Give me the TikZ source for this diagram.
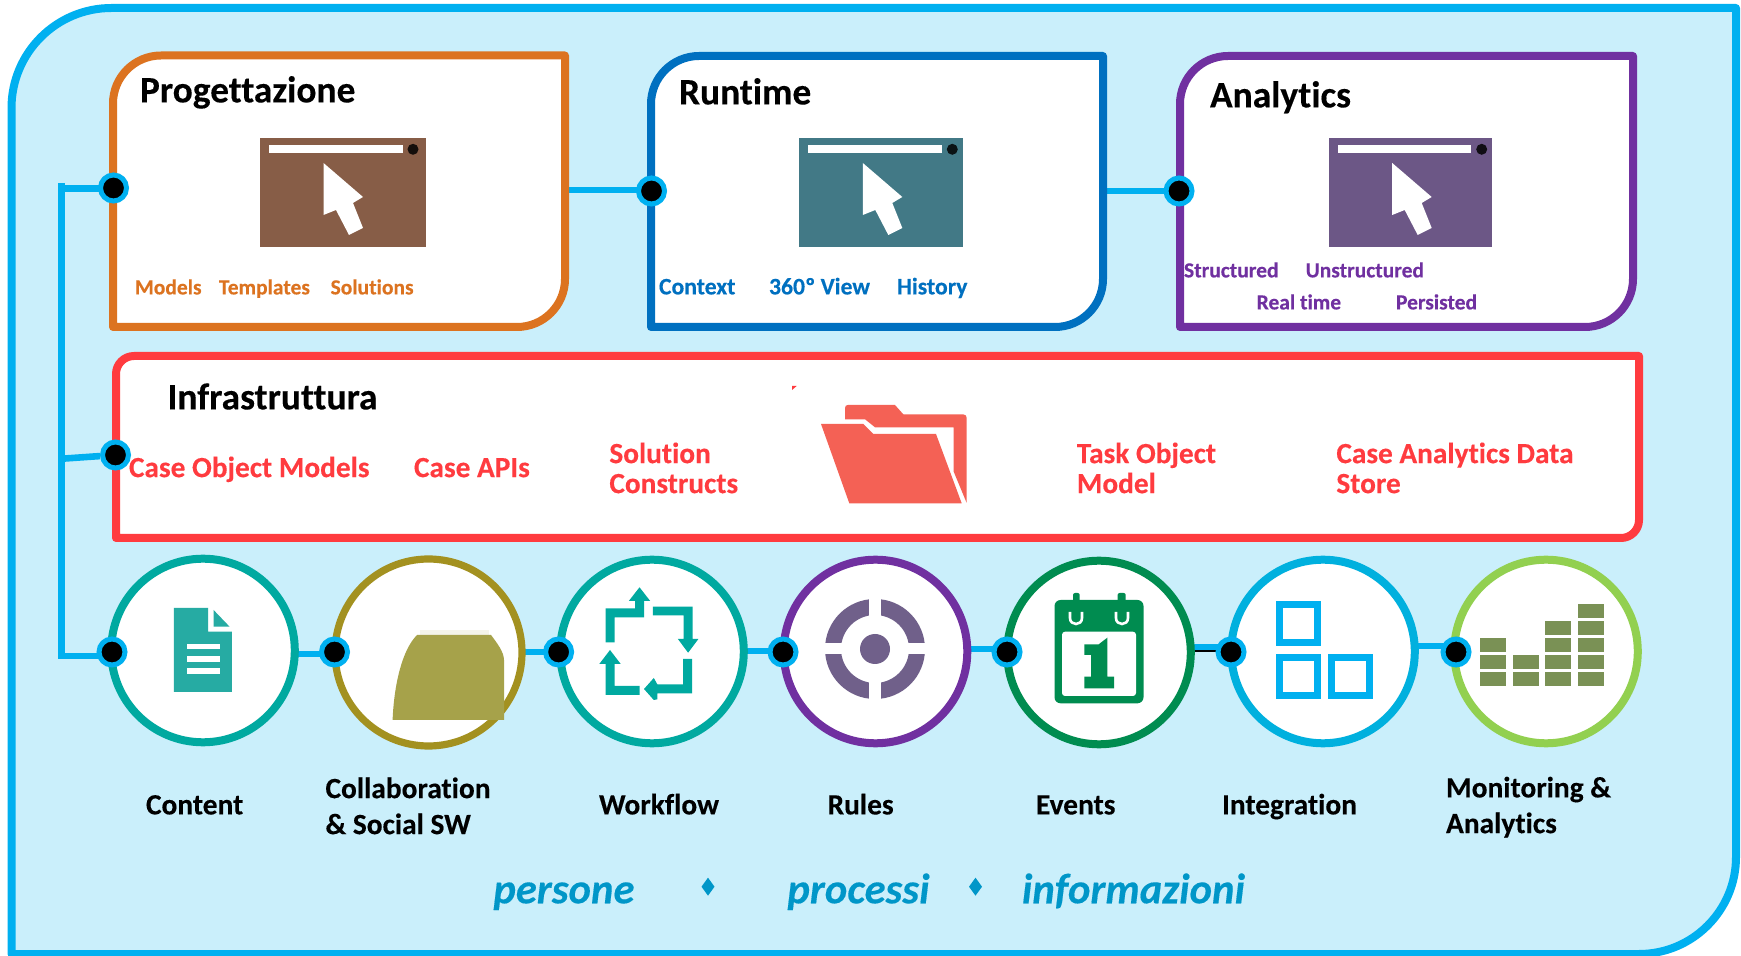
\documentclass[tikz,border=0pt]{standalone}
\usepackage{fontspec}
\setmainfont{Carlito}[Ligatures=CommonOff,BoldFeatures={FakeBold=0.25},BoldItalicFeatures={FakeBold=0.25}]
\pgfdeclarelayer{bgl}\pgfdeclarelayer{conn}\pgfdeclarelayer{shp}
\pgfsetlayers{bgl,conn,shp,main}
\definecolor{bgblue}{HTML}{CAEFFB}
\definecolor{link}{HTML}{00B0F0}
\definecolor{orangeb}{HTML}{DC7320}
\definecolor{blueb}{HTML}{0070C0}
\definecolor{purpleb}{HTML}{7030A0}
\definecolor{redb}{HTML}{FF3B3F}
\definecolor{tealb}{HTML}{00A9A0}
\definecolor{oliveb}{HTML}{A39120}
\definecolor{greenb}{HTML}{008C50}
\definecolor{cyanb}{HTML}{00B0DE}
\definecolor{limeb}{HTML}{92D050}
\definecolor{word}{HTML}{0096C8}
\definecolor{winA}{HTML}{875D47}
\definecolor{winB}{HTML}{427986}
\definecolor{winC}{HTML}{6C5786}
\definecolor{docc}{HTML}{26ABA3}
\definecolor{collabc}{HTML}{A6A24A}
\definecolor{rulec}{HTML}{70608A}
\definecolor{barc}{HTML}{7A9155}
\definecolor{folderc}{HTML}{F46155}
\tikzset{
  dot/.style={circle,draw=link,fill=black,line width=2.5pt,minimum size=13pt,inner sep=0pt},
  linkline/.style={draw=link,line width=3.3pt},
  ring/.style={circle,fill=white,line width=4pt,minimum size=91.8pt,inner sep=0pt},
  lab/.style={anchor=base west,inner sep=0pt,font=\bfseries,xshift=-0.2pt,yshift=-0.2pt},
  title/.style={lab,font=\fontsize{18.7}{20}\selectfont\bfseries},
  bottomlab/.style={lab,yshift=-0.5pt,font=\fontsize{14.7}{16}\selectfont\bfseries},
  small/.style={lab,font=\fontsize{10.75}{12}\selectfont\bfseries},
  mid/.style={lab,font=\fontsize{11.85}{13}\selectfont\bfseries},
  inf/.style={lab,text=redb,font=\fontsize{14.65}{16}\selectfont\bfseries},
  big/.style={lab,text=word,xshift=0.2pt,yshift=-0.1pt,font=\fontsize{21.3}{23}\selectfont\bfseries\itshape},
  boxline/.style={line width=4pt,line join=round},
}
% L T R B r(top-left) r(bottom-right)
\newcommand{\lobox}[7]{%
  \path[boxline,#7] (#1,#4) -- (#1,#2+#5) .. controls (#1,#2+0.448*#5) and (#1+0.448*#5,#2) .. (#1+#5,#2)
   -- (#3,#2) -- (#3,#4-#6) .. controls (#3,#4-0.448*#6) and (#3-0.448*#6,#4) .. (#3-#6,#4) -- cycle;}
\newcommand{\windowicon}[3]{%
  \begin{scope}[shift={(#1,138)}]
    \fill[#3] (0,0) rectangle (#2,109);
    \fill[white] (9,7) rectangle (142.5,15);
    \fill[black!85!#3] (153,11.3) circle[radius=5.5];
    \fill[white] (63.5,25) -- (103,59) -- (93,65) -- (103,90) -- (89,97) -- (76,72) -- (63.5,77) -- cycle;
  \end{scope}}
\begin{document}
\begin{tikzpicture}[x=0.5pt,y=-0.5pt]
\useasboundingbox (0,0) rectangle (1741,956);
\begin{pgfonlayer}{bgl}
  \lobox{11.5}{8}{1736}{954}{100}{97}{draw=link,fill=bgblue}
\end{pgfonlayer}

% connection dots
\node[dot] (np) at (113.5,188) {};
\node[dot] (nr) at (651.5,191) {};
\node[dot] (na) at (1179,191) {};
\node[dot] (ni) at (115.5,455) {};
\node[dot] (c1) at (112,652) {};
\node[dot] (c2) at (334.5,652) {};
\node[dot] (c3) at (558.6,652) {};
\node[dot] (c4) at (783,652) {};
\node[dot] (c5) at (1007,652) {};
\node[dot] (c6) at (1231,652) {};
\node[dot] (c7) at (1456,652) {};

\coordinate (tTop) at (61.5,183);
\coordinate (tMid) at (61.5,188.5);
\coordinate (tBot) at (61.5,656);
\coordinate (tInf) at (65,458.5);
\coordinate (pOut) at (565,190);
\coordinate (rOut) at (1103,191);
\coordinate (o1) at (290,654);
\coordinate (o2) at (520,652);
\coordinate (o3) at (740,651);
\coordinate (o4) at (965,649);
\coordinate (o5) at (1190,647);
\coordinate (o5b) at (1190,651.5);
\coordinate (o6) at (1412,646);

\begin{pgfonlayer}{conn}
  \draw[linkline,line join=miter] (tTop) -- (tBot) -- (tBot -| c1);
  \draw[linkline] (tMid) -- (tMid -| np);
  \draw[linkline] (tInf) -- (ni);
  \draw[linkline] (pOut) -- (pOut -| nr);
  \draw[linkline] (rOut) -- (na);
  \draw[black,line width=1pt] (o5b) -- (o5b -| c6);
  \draw[linkline] (o1) -- (o1 -| c2);
  \draw[linkline] (o2) -- (o2 -| c3);
  \draw[linkline] (o3) -- (o3 -| c4);
  \draw[linkline] (o4) -- (o4 -| c5);
  \draw[linkline] (o5) -- (o5 -| c6);
  \draw[linkline] (o6) -- (o6 -| c7);
\end{pgfonlayer}

\begin{pgfonlayer}{shp}
  \lobox{113}{55.5}{565}{327}{48}{48}{draw=orangeb,fill=white}
  \lobox{651}{56}{1103}{327}{48}{48}{draw=blueb,fill=white}
  \lobox{1180}{56}{1633}{327}{48}{48}{draw=purpleb,fill=white}
  \lobox{116}{356}{1639}{538}{18}{18}{draw=redb,fill=white}
  \windowicon{260}{165.5}{winA}
  \windowicon{799.3}{163.4}{winB}
  \windowicon{1328.7}{163}{winC}

  % folder
  \fill[folderc,line join=round] (845,408) .. controls (845,406) and (846,405) .. (848,405)
     -- (895,405) -- (903.3,414.3) -- (963,414.3) .. controls (965.5,414.3) and (966.7,416) .. (966.7,418)
     -- (966.7,503) -- (953.7,471.7) -- (953.7,427.3) -- (875,427.3) -- (865,419.3) -- (845,419.3) -- cycle;
  \fill[folderc] (821,424) -- (863.3,424) -- (873.3,434) -- (936,434) -- (961.7,503.3) -- (849.3,503.3) -- cycle;
  \fill[redb] (792,386) -- (796.7,386) -- (792,390) -- cycle;

  % circles
  \node[ring,draw=tealb] (r1) at (203,650.5) {};
  \node[ring,draw=oliveb,line width=3.6pt,minimum size=93.5pt] (r2) at (428.5,652.5) {};
  \node[ring,draw=tealb] (r3) at (652,651.5) {};
  \node[ring,draw=purpleb] (r4) at (875.5,651.5) {};
  \node[ring,draw=greenb] (r5) at (1099,652.5) {};
  \node[ring,draw=cyanb] (r6) at (1323,651.5) {};
  \node[ring,draw=limeb] (r7) at (1546,651.5) {};

  % document icon
  \fill[docc] (173.8,608) -- (208.2,608) -- (208.2,631.7) -- (231.9,631.7) -- (231.9,692) -- (173.8,692) -- cycle;
  \fill[docc] (213.6,610) -- (229.6,626.7) -- (213.6,626.7) -- cycle;
  \fill[white] (187.2,643.7) rectangle (219.8,649.3);
  \fill[white] (187.2,656) rectangle (219.8,661.7);
  \fill[white] (187.2,668.3) rectangle (219.8,674);

  % collaboration shape
  \fill[collabc!12!white] (420,630) rectangle (489,635);
  \fill[collabc] (392.6,720) .. controls (394,685) and (402,650) .. (417,635) -- (491,635)
     .. controls (497,643) and (504,652) .. (504,660) -- (504,720) -- cycle;

  % workflow arrows
  \fill[tealb] (605.5,642.3) -- (614.5,642.3) -- (614.5,617.3) -- (644,617.3) -- (644,601) -- (650.2,601)
     -- (639.5,587.3) -- (628.8,601) -- (635,601) -- (635,608.3) -- (605.5,608.3) -- cycle;
  \fill[tealb] (652.9,606.7) -- (692.6,606.7) -- (692.6,639) -- (698.4,639) -- (688.1,652.7) -- (677.9,639)
     -- (683.7,639) -- (683.7,615.3) -- (652.9,615.3) -- cycle;
  \fill[tealb] (683.2,659) -- (692.2,659) -- (692.2,693.3) -- (657.3,693.3) -- (657.3,699.3) -- (653.8,700)
     -- (644,689) -- (653.8,678) -- (657.3,684.3) -- (683.2,684.3) -- cycle;
  \fill[tealb] (639.5,686) -- (639.5,695) -- (605.5,695) -- (605.5,664) -- (599.3,664) -- (610,650)
     -- (620.7,664) -- (614.5,664) -- (614.5,686) -- cycle;

  % rules target
  \draw[rulec,line width=8pt] (875,649) circle[radius=42];
  \fill[white] (869.3,595) rectangle (880.7,703);
  \fill[white] (821,643.5) rectangle (929,654.5);
  \fill[rulec] (875,649) circle[radius=15];

  % calendar
  \fill[greenb,rounded corners=3pt] (1054.5,600) rectangle (1143.5,703.3);
  \fill[greenb,rounded corners=1pt] (1073,593) rectangle (1079.7,603);
  \fill[greenb,rounded corners=1pt] (1117.6,593) rectangle (1125.7,603);
  \fill[white,rounded corners=1.5pt] (1062,631.7) -- (1136,631.7) -- (1136,696) -- (1062,696) -- cycle;
  \draw[white,line width=1.3pt] (1070,612) -- (1070,618) .. controls (1070,626) and (1082,626) .. (1082,618) -- (1082,612);
  \draw[white,line width=1.3pt] (1116,612) -- (1116,618) .. controls (1116,626) and (1128,626) .. (1128,618) -- (1128,612);
  \fill[greenb] (1084.3,644.3) -- (1098.7,644.3) -- (1107.3,637.7) -- (1107.3,676.7) -- (1114.2,676.7)
     -- (1114.2,688.3) -- (1084.3,688.3) -- (1084.3,676.7) -- (1091.2,676.7) -- (1091.2,655) -- (1084.3,655) -- cycle;

  % integration squares
  \draw[link,line width=3.5pt] (1279.5,604.5) rectangle (1317.5,642.5);
  \draw[link,line width=3.5pt] (1279.5,657.2) rectangle (1317.5,695.2);
  \draw[link,line width=3.5pt] (1331.5,657.2) rectangle (1369.5,695.2);

  % monitoring bars
  \foreach \cx/\n in {1480.4/3,1513/2,1545/4,1578/5}{
    \foreach \k in {1,...,\n}{
      \fill[barc] (\cx,689-17*\k) rectangle (\cx+26,702.7-17*\k);
    }
  }
\end{pgfonlayer}

% texts
\node[title] (tp) at (140,102) {Progettazione};
\node[title] (tr) at (679,104) {Runtime};
\node[title] (ta) at (1210,107) {Analytics};
\node[title] (ti) at (167.5,409) {Infrastruttura};

\node[small,text=orangeb] (l1) at (135,294) {Models};
\node[small,text=orangeb] (l2) at (219,294) {Templates};
\node[small,text=orangeb] (l3) at (330.6,294) {Solutions};

\node[mid,text=blueb] (l4) at (659,294) {Context};
\node[mid,text=blueb] (l5) at (769,294) {360º View};
\node[mid,text=blueb] (l6) at (897,294) {History};

\node[small,text=purpleb] (l7) at (1184,277) {Structured};
\node[small,text=purpleb] (l8) at (1305.7,277) {Unstructured};
\node[small,text=purpleb] (l9) at (1256.7,309) {Real time};
\node[small,text=purpleb] (l10) at (1396,309) {Persisted};

\node[inf] (i1) at (129,476.7) {Case Object Models};
\node[inf] (i2) at (414,476.7) {Case APIs};
\node[inf] (i3) at (609.4,462.7) {Solution};
\node[inf] (i4) at (609.4,492.7) {Constructs};
\node[inf] (i5) at (1076.8,462.7) {Task Object};
\node[inf] (i6) at (1076.8,492.7) {Model};
\node[inf] (i7) at (1336.4,462.7) {Case Analytics Data};
\node[inf] (i8) at (1336.4,492.7) {Store};

\node[bottomlab] (b1) at (146,813) {Content};
\node[bottomlab] (b2) at (325.5,796.7) {Collaboration};
\node[bottomlab] (b3) at (325.5,832.7) {\& Social SW};
\node[bottomlab] (b4) at (599,813) {Workflow};
\node[bottomlab] (b5) at (827.6,813) {Rules};
\node[bottomlab] (b6) at (1036,813) {Events};
\node[bottomlab] (b7) at (1222,813) {Integration};
\node[bottomlab] (b8) at (1446,796) {Monitoring \&};
\node[bottomlab] (b9) at (1446,831.7) {Analytics};

\node[big] (w1) at (493,902.7) {persone};
\node[big] (w2) at (787,902.7) {processi};
\node[big] (w3) at (1021.5,902.7) {informazioni};
\fill[word] (708,877.7) -- (714.5,886.7) -- (708,895.7) -- (701.5,886.7) -- cycle;
\fill[word] (975.5,877.7) -- (982,886.7) -- (975.5,895.7) -- (969,886.7) -- cycle;
\end{tikzpicture}
\end{document}
